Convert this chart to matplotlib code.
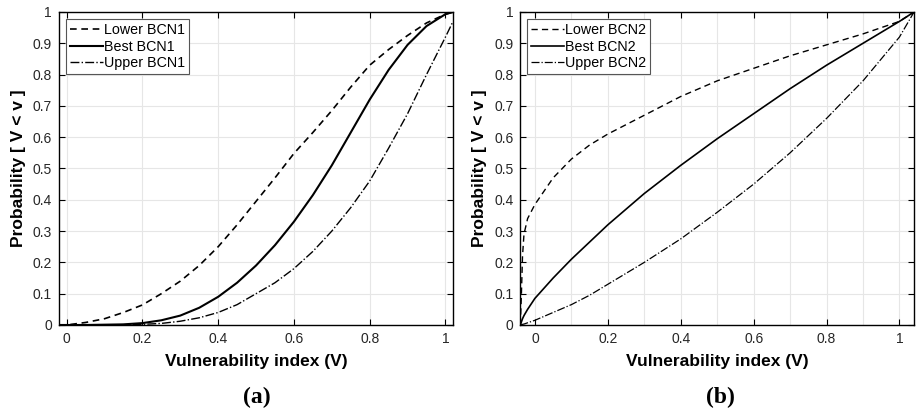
import matplotlib.pyplot as plt
import numpy as np

plt.rcParams['font.family'] = ['Liberation Sans', 'DejaVu Sans']

# panel (a) - BCN1 curves
x_a = [-0.02, 0.0, 0.05, 0.1, 0.15, 0.2, 0.25, 0.3, 0.35, 0.4, 0.45, 0.5, 0.55, 0.6,
       0.65, 0.7, 0.75, 0.8, 0.85, 0.9, 0.95, 1.0, 1.02]
lower_bcn1 = [0.0, 0.0, 0.008, 0.02, 0.04, 0.064, 0.1, 0.14, 0.19, 0.25, 0.32, 0.395,
              0.47, 0.548, 0.615, 0.685, 0.76, 0.83, 0.88, 0.925, 0.965, 0.993, 1.0]
best_bcn1 = [0.0, 0.0, 0.0, 0.001, 0.002, 0.006, 0.015, 0.03, 0.055, 0.09, 0.135, 0.19,
             0.255, 0.33, 0.415, 0.51, 0.615, 0.72, 0.815, 0.895, 0.955, 0.993, 1.0]
upper_bcn1 = [0.0, 0.0, 0.0, 0.0, 0.001, 0.002, 0.005, 0.012, 0.023, 0.04, 0.065, 0.1,
              0.135, 0.18, 0.235, 0.3, 0.375, 0.46, 0.565, 0.675, 0.8, 0.92, 0.97]

# panel (b) - BCN2 curves
x_b = [-0.04, -0.037, -0.034, -0.03, -0.02, 0.0, 0.05, 0.1, 0.15, 0.2, 0.3, 0.4, 0.5,
       0.6, 0.7, 0.8, 0.9, 1.0, 1.04]
lower_bcn2 = [0.0, 0.1, 0.22, 0.29, 0.34, 0.385, 0.47, 0.53, 0.575, 0.61, 0.67, 0.73,
              0.78, 0.82, 0.86, 0.895, 0.93, 0.97, 1.0]
best_bcn2 = [0.0, 0.01, 0.02, 0.03, 0.05, 0.085, 0.15, 0.21, 0.265, 0.32, 0.42, 0.51,
             0.595, 0.675, 0.755, 0.83, 0.9, 0.97, 1.0]
upper_bcn2 = [0.0, 0.001, 0.002, 0.003, 0.007, 0.015, 0.04, 0.065, 0.095, 0.13, 0.2,
              0.275, 0.36, 0.45, 0.55, 0.66, 0.78, 0.92, 1.0]

fig = plt.figure(figsize=(9.18, 4.12), dpi=100)
ax_a = fig.add_axes([0.0643, 0.2112, 0.4292, 0.7597])
ax_b = fig.add_axes([0.5668, 0.2112, 0.4289, 0.7597])


def style_axes(ax, xlim, minor_grid):
    ax.set_xlim(*xlim)
    ax.set_ylim(0, 1)
    ax.set_xticks([0, 0.2, 0.4, 0.6, 0.8, 1])
    ax.set_xticklabels(['0', '0.2', '0.4', '0.6', '0.8', '1'])
    ax.set_yticks(np.arange(0, 1.01, 0.1))
    ax.set_yticklabels(['0', '0.1', '0.2', '0.3', '0.4', '0.5', '0.6', '0.7', '0.8', '0.9', '1'])
    if minor_grid:
        ax.set_xticks([0.1, 0.3, 0.5, 0.7, 0.9], minor=True)
        ax.tick_params(axis='x', which='minor', length=0)
        ax.grid(True, which='minor', axis='x', color='#e6e6e6', linewidth=0.8)
    ax.grid(True, which='major', color='#e6e6e6', linewidth=0.8)
    ax.set_axisbelow(True)
    ax.tick_params(direction='in', top=True, right=True, length=4, width=0.8,
                   labelsize=10, pad=5, labelcolor='#262626')
    for s in ax.spines.values():
        s.set_linewidth(1.0)
    ax.set_xlabel('Vulnerability index (V)', fontsize=12.5, fontweight='bold', labelpad=6)
    ax.set_ylabel('Probability [ V < v ]', fontsize=12.5, fontweight='bold', labelpad=5)


ax_a.plot(x_a, lower_bcn1, 'k--', lw=1.2, dashes=(4, 2.8), label='Lower BCN1')
ax_a.plot(x_a, best_bcn1, 'k-', lw=1.5, label='Best BCN1')
ax_a.plot(x_a, upper_bcn1, 'k-.', lw=1.0, label='Upper BCN1')
style_axes(ax_a, (-0.02, 1.02), False)

ax_b.plot(x_b, lower_bcn2, 'k--', lw=1.0, dashes=(4.5, 3), label='Lower BCN2')
ax_b.plot(x_b, best_bcn2, 'k-', lw=1.2, label='Best BCN2')
ax_b.plot(x_b, upper_bcn2, 'k-.', lw=0.9, label='Upper BCN2')
style_axes(ax_b, (-0.04, 1.04), True)

for ax in (ax_a, ax_b):
    leg = ax.legend(loc='upper left', fontsize=10.3, fancybox=False, framealpha=1,
                    edgecolor='#555555', handlelength=2.3, handletextpad=0.1,
                    borderpad=0.25, labelspacing=0.2, borderaxespad=0.5)
    leg.get_frame().set_linewidth(0.8)

fig.text(0.280, 0.036, '(a)', family='Liberation Serif', fontsize=17,
         fontweight='bold', ha='center', va='center')
fig.text(0.785, 0.036, '(b)', family='Liberation Serif', fontsize=17,
         fontweight='bold', ha='center', va='center')

fig.savefig('out.png', dpi=100)
